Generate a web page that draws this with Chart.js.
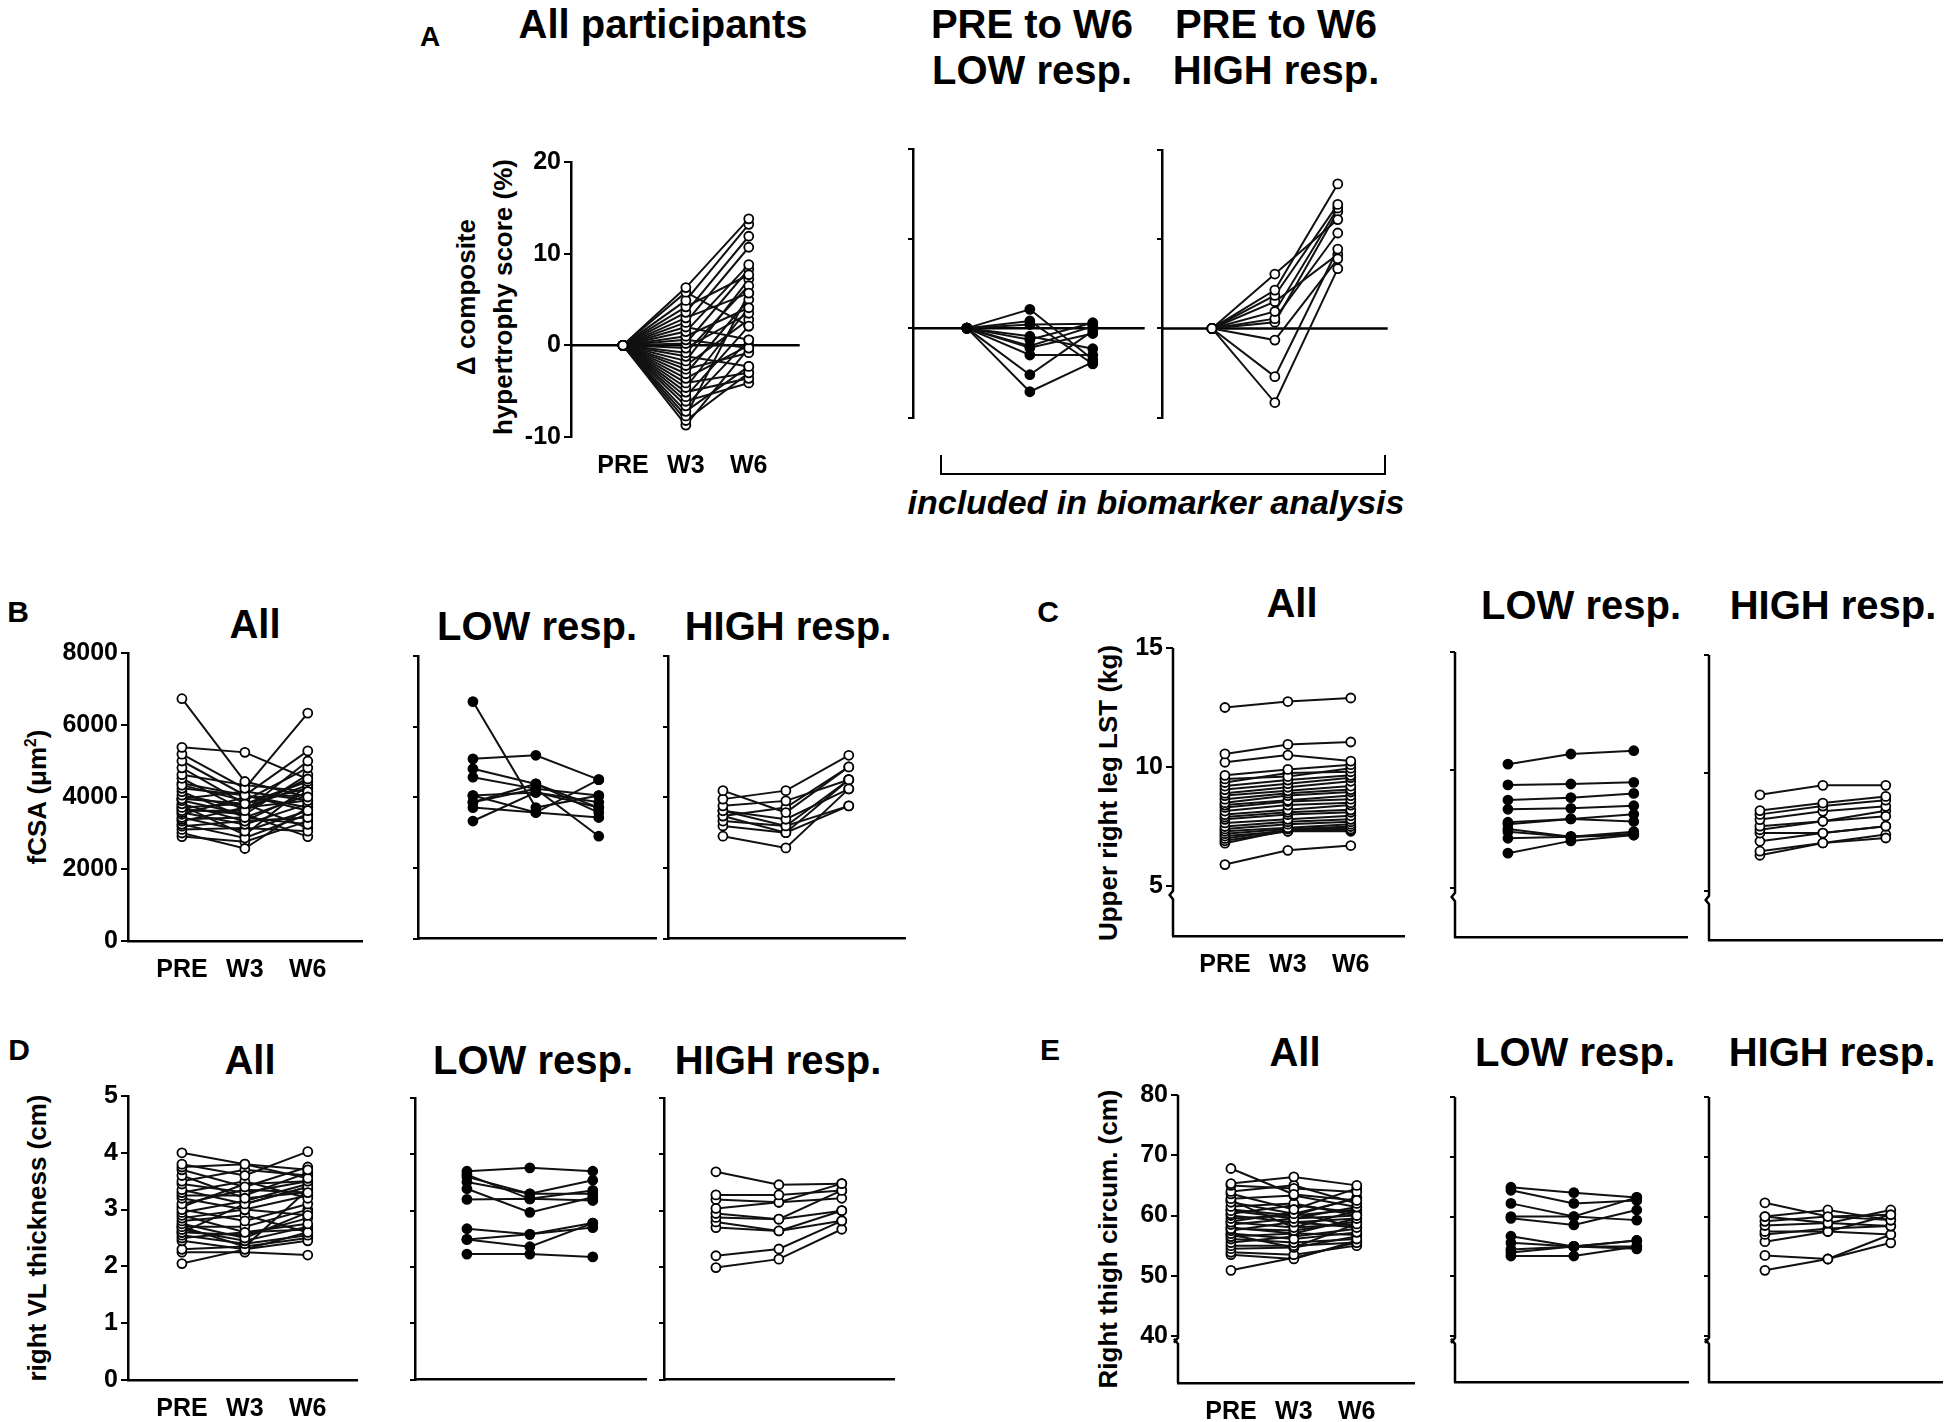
<!DOCTYPE html>
<html>
<head>
<meta charset="utf-8">
<script src="https://cdn.jsdelivr.net/npm/chart.js@4.4.1/dist/chart.umd.min.js"></script>
<style>
  body { margin: 0; width: 1950px; height: 1422px; position: relative; overflow: hidden; background: #fff;
         font-family: "Liberation Sans", Arial, sans-serif; font-weight: bold; color: #000; }
  .t { position: absolute; white-space: nowrap; transform: translate(-50%, -50%); }
  .v { position: absolute; white-space: nowrap; transform: translate(-50%, -50%) rotate(-90deg); font-size: 26px; }
  .ttl { font-size: 40px; }
  .lt { font-size: 30px; }
  canvas { position: absolute; }
  sup { font-size: 60%; }
</style>
</head>
<body>

<!-- panel A -->
<div class="t" style="left:430px;top:37px;font-size:28px">A</div>
<div class="t ttl" style="left:663px;top:24px">All participants</div>
<div class="t ttl" style="left:1032px;top:24px">PRE to W6</div>
<div class="t ttl" style="left:1032px;top:70px">LOW resp.</div>
<div class="t ttl" style="left:1276px;top:24px">PRE to W6</div>
<div class="t ttl" style="left:1276px;top:70px">HIGH resp.</div>
<div class="v" style="left:466px;top:297px">&Delta; composite</div>
<div class="v" style="left:503px;top:297px">hypertrophy score (%)</div>
<div style="position:absolute;left:940px;top:455px;width:442px;height:18px;border:2.5px solid #000;border-top:none"></div>
<div class="t" style="left:1156px;top:502px;font-size:34px;font-style:italic">included in biomarker analysis</div>

<!-- panel B -->
<div class="t lt" style="left:18px;top:612px">B</div>
<div class="t ttl" style="left:255px;top:624px">All</div>
<div class="t ttl" style="left:537px;top:626px">LOW resp.</div>
<div class="t ttl" style="left:788px;top:626px">HIGH resp.</div>
<div class="v" style="left:37px;top:797px">fCSA (&mu;m<sup>2</sup>)</div>

<!-- panel C -->
<div class="t lt" style="left:1048px;top:612px">C</div>
<div class="t ttl" style="left:1292px;top:603px">All</div>
<div class="t ttl" style="left:1581px;top:605px">LOW resp.</div>
<div class="t ttl" style="left:1833px;top:605px">HIGH resp.</div>
<div class="v" style="left:1108px;top:793px">Upper right leg LST (kg)</div>

<!-- panel D -->
<div class="t lt" style="left:19px;top:1050px">D</div>
<div class="t ttl" style="left:250px;top:1060px">All</div>
<div class="t ttl" style="left:533px;top:1060px">LOW resp.</div>
<div class="t ttl" style="left:778px;top:1060px">HIGH resp.</div>
<div class="v" style="left:37px;top:1238px">right VL thickness (cm)</div>

<!-- panel E -->
<div class="t lt" style="left:1050px;top:1050px">E</div>
<div class="t ttl" style="left:1295px;top:1052px">All</div>
<div class="t ttl" style="left:1575px;top:1052px">LOW resp.</div>
<div class="t ttl" style="left:1832px;top:1052px">HIGH resp.</div>
<div class="v" style="left:1108px;top:1239px">Right thigh circum. (cm)</div>

<script>
const timeLabels = ['PRE', 'W3', 'W6'];

// A: change in composite hypertrophy score (%), each row = one participant [PRE, W3, W6]
const compTicks = [-10, 0, 10, 20];
const compAll = [
  [0, 6.3, 13.8], [0, 5.8, 2.1], [0, 4.9, 13.2], [0, 4.2, 7.7], [0, 3.6, 11.9],
  [0, 3.0, 5.7], [0, 2.5, 10.7], [0, 2.0, 0.6], [0, 1.5, 8.8], [0, 1.0, 4.1],
  [0, 0.6, -0.3], [0, 0.2, 8.3], [0, -0.3, 3.5], [0, -0.8, 6.5], [0, -1.2, -2.3],
  [0, -1.7, 7.2], [0, -2.2, 2.8], [0, -2.6, -0.8], [0, -3.1, 5.0], [0, -3.6, 0.0],
  [0, -4.1, -3.0], [0, -4.6, 4.1], [0, -5.1, -3.6], [0, -5.6, 2.1], [0, -6.1, -4.1],
  [0, -6.6, 0.6], [0, -7.2, -2.3], [0, -7.7, 5.7], [0, -8.2, -3.0], [0, -8.7, -0.3]
];
const compLow = [
  [0, 2.1, -3.5], [0, 0.8, -4.0], [0, 0.4, 0.5], [0, -0.9, -2.3], [0, -2.0, 0.2],
  [0, -2.2, -0.6], [0, -3.0, -3.0], [0, -5.2, -0.3], [0, -7.1, -3.8], [0, -1.3, 0.6]
];
const compHigh = [
  [0, 6.1, 12.2], [0, 4.3, 16.2], [0, 3.7, 13.9], [0, 1.9, 13.5], [0, 1.1, 10.7],
  [0, 0.7, 13.1], [0, -1.3, 7.8], [0, -5.4, 8.9], [0, -8.3, 6.7], [0, 3.0, 8.3]
];

// B: fCSA (um2)
const fcsaTicks = [0, 2000, 4000, 6000, 8000];
const fcsaAll = [
  [6730, 4430, 4000], [5380, 5240, 4500], [5190, 4240, 6330], [5000, 4050, 5280], [4810, 3810, 4430],
  [4620, 4330, 4150], [4520, 3620, 5000], [4330, 3900, 4810], [4240, 4050, 3620], [4150, 3430, 4050],
  [4050, 3710, 4330], [3950, 4150, 3900], [3900, 3520, 4620], [3810, 3330, 3430], [3710, 3810, 4240],
  [3620, 3620, 4520], [3570, 3240, 3810], [3520, 3990, 4050], [3430, 3050, 3620], [3380, 3430, 3240],
  [3330, 3710, 3900], [3240, 2860, 3520], [3190, 3330, 4150], [3100, 3140, 3050], [3000, 2570, 3710],
  [2900, 2760, 3330], [3670, 3520, 2900], [4380, 4050, 3710], [3760, 2950, 4330], [3950, 3810, 3140]
];
const fcsaLow = [
  [6710, 3710, 4050], [5090, 5190, 4500], [4810, 4380, 3570], [4570, 4240, 2900], [4050, 4140, 3860],
  [4050, 3570, 4500], [3860, 4380, 3710], [3710, 3570, 3430], [3330, 4140, 3710], [3860, 4240, 4050]
];
const fcsaHigh = [
  [4190, 3570, 4860], [3950, 4190, 5190], [3760, 3900, 4500], [3620, 3380, 4240], [3470, 3710, 4860],
  [3330, 3190, 4500], [3190, 3000, 3760], [2900, 2570, 4240], [3620, 3190, 3760], [3470, 3000, 4500]
];

// C: upper right leg lean soft tissue (kg)
const lstTicks = [5, 10, 15];
const lstAll = [
  [12.5, 12.75, 12.9], [10.55, 10.95, 11.05], [10.2, 10.5, 10.25], [9.65, 9.9, 10.1], [9.5, 9.6, 9.95],
  [9.35, 9.75, 9.8], [9.2, 9.45, 9.65], [9.05, 9.3, 9.55], [8.9, 9.15, 9.4], [8.8, 9.0, 9.2],
  [8.65, 8.9, 9.05], [8.5, 8.8, 8.95], [8.4, 8.6, 8.8], [8.3, 8.55, 8.65], [8.15, 8.4, 8.5],
  [8.0, 8.2, 8.4], [7.9, 8.1, 8.2], [7.8, 8.0, 8.1], [7.65, 7.8, 7.95], [7.5, 7.7, 7.8],
  [7.4, 7.6, 7.7], [7.3, 7.45, 7.6], [7.2, 7.4, 7.5], [7.1, 7.3, 7.4], [7.0, 7.35, 7.35],
  [6.9, 7.3, 7.3], [6.8, 7.35, 7.45], [5.9, 6.5, 6.7]
];
const lstLow = [
  [10.25, 10.68, 10.82], [9.37, 9.41, 9.48], [8.73, 8.83, 9.01], [8.34, 8.38, 8.49], [7.79, 7.93, 8.13],
  [7.7, 7.93, 7.82], [7.39, 7.18, 7.39], [7.11, 7.18, 7.25], [6.48, 7.0, 7.25], [7.5, 7.18, 7.3]
];
const lstHigh = [
  [9.08, 9.48, 9.48], [8.41, 8.73, 9.01], [8.25, 8.6, 8.85], [8.03, 8.38, 8.59], [7.75, 7.96, 8.17],
  [7.6, 7.96, 8.4], [7.46, 7.46, 7.75], [7.11, 7.46, 7.75], [6.69, 7.04, 7.25], [6.52, 7.04, 7.4]
];

// D: right VL thickness (cm)
const vlTicks = [0, 1, 2, 3, 4, 5];
const vlAll = [
  [4.0, 3.8, 3.7], [3.8, 3.6, 4.02], [3.75, 3.8, 3.55], [3.7, 3.4, 3.75], [3.6, 3.2, 3.3],
  [3.5, 3.7, 3.6], [3.45, 3.3, 3.5], [3.35, 3.1, 3.4], [3.3, 3.5, 3.2], [3.25, 3.25, 3.65],
  [3.2, 3.0, 2.9], [3.1, 3.35, 3.3], [3.0, 2.8, 3.1], [2.95, 3.15, 3.45], [2.9, 2.6, 2.75],
  [2.85, 3.0, 3.25], [2.8, 2.9, 2.6], [2.75, 2.5, 2.95], [2.7, 2.7, 3.0], [2.65, 2.45, 2.7],
  [2.6, 2.55, 2.85], [2.6, 3.1, 3.4], [2.55, 2.4, 2.55], [2.5, 2.6, 2.65], [2.45, 2.3, 2.45],
  [2.3, 2.35, 2.5], [2.25, 2.25, 2.2], [2.05, 2.3, 2.6], [3.05, 3.45, 3.5], [2.7, 2.35, 3.35]
];
const vlLow = [
  [3.70, 3.76, 3.70], [3.64, 3.21, 3.36], [3.51, 3.30, 3.54], [3.39, 2.97, 3.24], [3.20, 3.21, 3.18],
  [3.60, 3.30, 3.30], [2.68, 2.58, 2.78], [2.49, 2.58, 2.70], [2.49, 2.36, 2.78], [2.23, 2.23, 2.18]
];
const vlHigh = [
  [3.69, 3.46, 3.48], [3.28, 3.28, 3.36], [3.20, 3.15, 3.48], [3.04, 3.15, 3.22], [2.95, 2.85, 3.36],
  [2.88, 2.85, 3.00], [2.80, 2.64, 2.82], [2.70, 2.64, 3.00], [2.20, 2.32, 2.82], [1.99, 2.14, 2.67]
];

// E: right thigh circumference (cm)
const thighTicks = [40, 50, 60, 70, 80];
const thighAll = [
  [67.8, 63.5, 62.5], [65.3, 66.4, 65.0], [65.0, 64.5, 63.9], [64.0, 65.0, 62.0], [63.6, 61.0, 64.5],
  [62.8, 63.3, 61.4], [62.2, 60.3, 62.8], [61.5, 62.0, 60.0], [60.8, 59.5, 61.4], [60.3, 61.7, 60.5],
  [60.0, 58.9, 59.5], [59.5, 60.0, 61.0], [58.9, 58.0, 58.6], [58.5, 59.5, 60.0], [57.8, 57.5, 59.0],
  [57.5, 58.9, 58.0], [57.0, 56.1, 57.2], [56.5, 57.0, 59.5], [56.1, 55.5, 56.1], [55.5, 56.5, 57.8],
  [55.0, 55.0, 55.5], [54.5, 54.7, 56.5], [53.9, 53.5, 55.0], [53.5, 52.8, 55.8], [50.9, 53.0, 55.5],
  [59.0, 60.5, 58.0], [61.0, 60.0, 63.0], [56.8, 54.7, 58.6], [62.5, 58.0, 60.8], [58.0, 57.0, 56.8]
];
const thighLow = [
  [64.9, 64.0, 63.2], [64.4, 62.2, 62.7], [62.2, 60.0, 63.2], [60.0, 60.0, 59.4], [59.7, 58.6, 61.1],
  [56.7, 55.0, 56.0], [55.6, 55.0, 55.0], [54.5, 55.0, 54.6], [53.4, 53.4, 55.0], [54.0, 55.0, 56.0]
];
const thighHigh = [
  [62.3, 60.0, 60.3], [60.0, 61.1, 59.4], [60.0, 58.9, 61.1], [59.2, 60.0, 59.4], [58.5, 58.9, 58.4],
  [57.5, 57.5, 60.3], [57.0, 58.0, 58.4], [55.8, 57.5, 57.0], [53.5, 52.9, 55.6], [51.0, 52.9, 57.0]
];

// page placement of each small plot (pixels), kept apart from the data
const STEP = 63;
const panels = [
  { data: compAll,  ticks: compTicks, min: -10, max: 20, axisX: 571,  top: 162,  bot: 437,  right: 800,  pre: 623,  labels: true,  fill: false, line: false, zero: true },
  { data: compLow,  ticks: compTicks, min: -10, max: 20, axisX: 913,  top: 149,  bot: 420,  right: 1145, pre: 967,  labels: false, fill: true,  line: false, zero: true },
  { data: compHigh, ticks: compTicks, min: -10, max: 20, axisX: 1162, top: 150,  bot: 420,  right: 1388, pre: 1212, labels: false, fill: false, line: false, zero: true },

  { data: fcsaAll,  ticks: fcsaTicks, min: 0, max: 8000, axisX: 128,  top: 653,  bot: 941,  right: 363,  pre: 182,  labels: true,  fill: false, line: true },
  { data: fcsaLow,  ticks: fcsaTicks, min: 0, max: 8000, axisX: 418,  top: 656,  bot: 941,  right: 657,  pre: 473,  labels: false, fill: true,  line: true },
  { data: fcsaHigh, ticks: fcsaTicks, min: 0, max: 8000, axisX: 668,  top: 656,  bot: 941,  right: 906,  pre: 723,  labels: false, fill: false, line: true },

  { data: lstAll,   ticks: lstTicks, min: 2.9, max: 15, axisX: 1173, top: 648,  bot: 936,  right: 1405, pre: 1225, labels: true,  fill: false, line: true, brk: [4.45, 4.8] },
  { data: lstLow,   ticks: lstTicks, min: 2.9, max: 15, axisX: 1455, top: 652,  bot: 940,  right: 1688, pre: 1508, labels: false, fill: true,  line: true, brk: [4.45, 4.8] },
  { data: lstHigh,  ticks: lstTicks, min: 2.9, max: 15, axisX: 1709, top: 655,  bot: 943,  right: 1943, pre: 1760, labels: false, fill: false, line: true, brk: [4.45, 4.8] },

  { data: vlAll,    ticks: vlTicks, min: 0, max: 5, axisX: 128,  top: 1096, bot: 1380, right: 358,  pre: 182,  labels: true,  fill: false, line: true },
  { data: vlLow,    ticks: vlTicks, min: 0, max: 5, axisX: 415,  top: 1098, bot: 1382, right: 647,  pre: 467,  labels: false, fill: true,  line: true },
  { data: vlHigh,   ticks: vlTicks, min: 0, max: 5, axisX: 664,  top: 1098, bot: 1382, right: 895,  pre: 716,  labels: false, fill: false, line: true },

  { data: thighAll,  ticks: thighTicks, min: 32.2, max: 80, axisX: 1178, top: 1095, bot: 1383, right: 1415, pre: 1231, labels: true,  fill: false, line: true, brk: [38.7, 39.7] },
  { data: thighLow,  ticks: thighTicks, min: 32.2, max: 80, axisX: 1455, top: 1097, bot: 1385, right: 1689, pre: 1511, labels: false, fill: true,  line: true, brk: [38.7, 39.7] },
  { data: thighHigh, ticks: thighTicks, min: 32.2, max: 80, axisX: 1709, top: 1097, bot: 1385, right: 1943, pre: 1765, labels: false, fill: false, line: true, brk: [38.7, 39.7] }
];

// zero reference line (panel A) and broken y axis (panels C, E)
const decoPlugin = {
  id: 'deco',
  beforeDatasetsDraw(chart, args, opts) {
    const { ctx, chartArea } = chart;
    const y = chart.scales.y;
    ctx.save();
    ctx.strokeStyle = '#000';
    ctx.lineWidth = 2.5;
    if (opts.zero) {
      const yy = y.getPixelForValue(0);
      ctx.beginPath();
      ctx.moveTo(chartArea.left, yy);
      ctx.lineTo(chartArea.right, yy);
      ctx.stroke();
    }
    if (opts.brk) {
      const x = chartArea.left;
      const y1 = y.getPixelForValue(opts.brk[1]);
      const y2 = y.getPixelForValue(opts.brk[0]);
      ctx.beginPath();
      ctx.moveTo(x, chartArea.top);
      ctx.lineTo(x, y1);
      ctx.lineTo(x - 4, y1 + 5);
      ctx.moveTo(x - 4, y2 - 5);
      ctx.lineTo(x, y2);
      ctx.lineTo(x, chartArea.bottom);
      ctx.stroke();
    }
    ctx.restore();
  }
};

const FONT = '"Liberation Sans", Arial, sans-serif';

function makeChart(p) {
  const yW = p.labels ? 100 : 12;
  const xH = p.labels ? 44 : 4;
  const padTop = 20, padRight = 6;
  const w = yW + (p.right - p.axisX) + padRight;
  const h = padTop + (p.bot - p.top) + xH;
  const cv = document.createElement('canvas');
  cv.width = w;
  cv.height = h;
  cv.style.left = (p.axisX - yW) + 'px';
  cv.style.top = (p.top - padTop) + 'px';
  document.body.appendChild(cv);

  const xMin = -(p.pre - p.axisX) / STEP;
  const xMax = (p.right - p.pre) / STEP;

  new Chart(cv.getContext('2d'), {
    type: 'line',
    data: {
      datasets: p.data.map(vals => ({
        data: vals.map((v, i) => ({ x: i, y: v })),
        borderColor: '#111',
        borderWidth: 2,
        pointRadius: 4.5,
        pointBorderWidth: 1.8,
        pointBorderColor: '#000',
        pointBackgroundColor: p.fill ? '#000' : '#fff',
        tension: 0,
        clip: false
      }))
    },
    options: {
      responsive: false,
      animation: false,
      layout: { padding: { top: padTop, right: padRight, left: 0, bottom: 0 } },
      plugins: {
        legend: { display: false },
        tooltip: { enabled: false },
        deco: { zero: !!p.zero, brk: p.brk || null }
      },
      scales: {
        x: {
          type: 'linear',
          min: xMin,
          max: xMax,
          afterBuildTicks: s => { s.ticks = timeLabels.map((_, i) => ({ value: i })); },
          afterFit: s => { s.height = xH; },
          grid: { display: false },
          border: { display: p.line, color: '#000', width: 2.5 },
          ticks: {
            display: p.labels,
            autoSkip: false,
            maxRotation: 0,
            padding: 6,
            color: '#000',
            font: { family: FONT, size: 25, weight: 'bold' },
            callback: v => timeLabels[v]
          }
        },
        y: {
          type: 'linear',
          min: p.min,
          max: p.max,
          afterBuildTicks: s => { s.ticks = p.ticks.map(v => ({ value: v })); },
          afterFit: s => { s.width = yW; },
          grid: { drawOnChartArea: false, drawTicks: true, tickLength: p.labels ? 7 : 5, color: '#000', lineWidth: 2 },
          border: { display: !p.brk, color: '#000', width: 2.5 },
          ticks: {
            display: p.labels,
            padding: 3,
            color: '#000',
            font: { family: FONT, size: 25, weight: 'bold' },
            callback: v => String(v)
          }
        }
      }
    },
    plugins: [decoPlugin]
  });
}

panels.forEach(makeChart);
</script>
</body>
</html>
